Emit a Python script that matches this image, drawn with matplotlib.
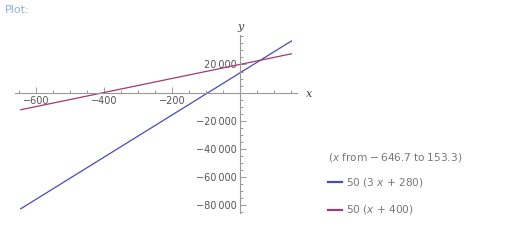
import matplotlib
matplotlib.use("Agg")
import matplotlib.pyplot as plt
from matplotlib.ticker import FixedLocator, MultipleLocator, FuncFormatter

plt.rcParams['font.family'] = ['DejaVu Sans']
plt.rcParams['mathtext.fontset'] = 'custom'
plt.rcParams['mathtext.rm'] = 'DejaVu Sans'
plt.rcParams['mathtext.it'] = 'DejaVu Sans:italic'

# data
x_ends = [-646.7, 153.3]
blue_y = [-83000, 37000]
red_y = [-12300, 27700]
x_major = [-600, -400, -200]
y_major = [20000, -20000, -40000, -60000, -80000]
series_labels = ["50 (3 $x$ + 280)", "50 ($x$ + 400)"]
range_label = "($x$ from \u2212\u2009646.7 to 153.3)"

BLUE = "#4b4bb3"
RED = "#a23a72"
W, H = 506, 243
fig = plt.figure(figsize=(W / 100, H / 100), dpi=100)
fig.patch.set_facecolor("white")

ax = fig.add_axes([15 / W, 1 - 212.5 / H, (297 - 15) / W, (212.5 - 35) / H])
ax.set_xlim(-662, 168)
ax.set_ylim(-85400, 41000)
ax.plot(x_ends, blue_y, color=BLUE, lw=0.9, solid_capstyle="butt")
ax.plot(x_ends, red_y, color=RED, lw=0.9, solid_capstyle="butt")

for s in ["top", "right"]:
    ax.spines[s].set_visible(False)
ax.spines["left"].set_position(("data", 0))
ax.spines["bottom"].set_position(("data", 0))
for s in ["left", "bottom"]:
    ax.spines[s].set_color("#999999")
    ax.spines[s].set_linewidth(0.8)

def fmt(v, pos=None):
    s = f"{abs(int(v)):,}".replace(",", "\u2009")
    return ("\u2212" if v < 0 else "") + s

ax.xaxis.set_major_locator(FixedLocator(x_major))
ax.xaxis.set_minor_locator(MultipleLocator(50))
ax.yaxis.set_major_locator(FixedLocator(y_major))
ax.yaxis.set_minor_locator(MultipleLocator(5000))
ax.xaxis.set_major_formatter(FuncFormatter(fmt))
ax.yaxis.set_major_formatter(FuncFormatter(fmt))
ax.tick_params(which="both", direction="in", color="#999999", width=0.7)
ax.tick_params(which="major", length=4, labelsize=7, labelcolor="#555555", pad=2.5)
ax.tick_params(which="minor", length=2)

fig.text(241 / W, 1 - 27 / H, "y", fontsize=8, family="DejaVu Serif",
         style="italic", color="#444444", ha="center", va="center")
fig.text(309 / W, 1 - 94 / H, "x", fontsize=8, family="DejaVu Serif",
         style="italic", color="#444444", ha="center", va="center")

fig.text(5 / W, 1 - 10 / H, "Plot:", fontsize=8, color="#8fafd6",
         ha="left", va="center")

fig.text(328 / W, 1 - 157 / H, range_label, fontsize=7.6, color="#777777",
         ha="left", va="center")
for lbl, col, yy in [(series_labels[0], BLUE, 182), (series_labels[1], RED, 210)]:
    fig.add_artist(plt.Line2D([328 / W, 342 / W], [1 - yy / H, 1 - yy / H],
                              color=col, lw=1.6, transform=fig.transFigure))
    fig.text(346 / W, 1 - yy / H, lbl, fontsize=7.6, color="#777777",
             ha="left", va="center")

fig.savefig("out.png", dpi=100, facecolor="white")
